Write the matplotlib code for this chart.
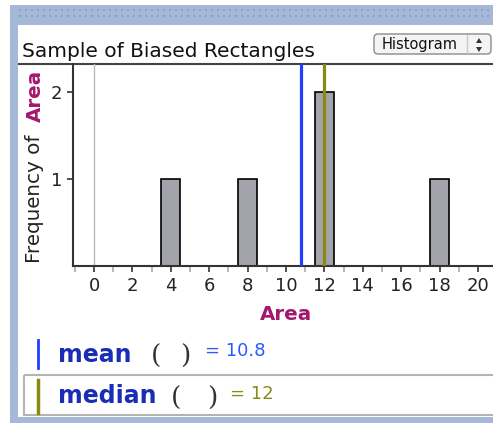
import numpy as np
import matplotlib
matplotlib.use("Agg")
import matplotlib.pyplot as plt
from matplotlib.patches import Rectangle, FancyBboxPatch, Polygon

# --- data --- #
areas = [4, 8, 12, 12, 18]
bin_edges = np.arange(-0.5, 21.0, 1.0)
x_major = [0, 2, 4, 6, 8, 10, 12, 14, 16, 18, 20]
x_minor = [-1, 1, 3, 5, 7, 9, 11, 13, 15, 17, 19]
y_ticks = [1, 2]
title = "Sample of Biased Rectangles"
mean_val = np.mean(areas)
median_val = np.median(areas)

W, H = 493, 423
fig = plt.figure(figsize=(W / 100, H / 100), dpi=100)
fig.patch.set_facecolor("white")
plt.rcParams["font.family"] = "DejaVu Sans"

# background layer in pixel coords (y down)
bg = fig.add_axes([0, 0, 1, 1])
bg.set_xlim(0, W)
bg.set_ylim(H, 0)
bg.axis("off")

frame_blue = "#a6b8d8"
bg.add_patch(Rectangle((10, 5), W - 10, 20, color=frame_blue, lw=0))
bg.add_patch(Rectangle((10, 5), 8, H - 5, color=frame_blue, lw=0))
bg.add_patch(Rectangle((10, 417), W - 10, 6, color=frame_blue, lw=0))
dx = np.arange(20, W, 6)
for yy in (10, 16):
    bg.scatter(dx, np.full(len(dx), yy), s=2.5, marker="s", color="#8aa0cc", lw=0)

# header
bg.text(22, 57, title, fontsize=14.5, color="#111111", ha="left", va="baseline")
bg.add_patch(FancyBboxPatch((374, 34), 117, 20, boxstyle="round,pad=0,rounding_size=4",
                            fc="#f4f4f4", ec="#8a8a8a", lw=1))
bg.plot([467, 467], [35, 53], color="#c8c8c8", lw=1)
bg.text(420, 45, "Histogram", fontsize=10.5, color="#111111", ha="center", va="center")
bg.add_patch(Polygon([[476, 43], [482, 43], [479, 38]], color="#333333", lw=0))
bg.add_patch(Polygon([[476, 47], [482, 47], [479, 52]], color="#333333", lw=0))
bg.plot([18, W], [64, 64], color="#444444", lw=1.5, solid_capstyle="butt")

# y label: "Frequency of" + bold "Area"
bg.text(35, 263, "Frequency of", fontsize=14.3, color="#222222",
        rotation=90, rotation_mode="anchor", ha="left", va="center")
bg.text(35, 122, "Area", fontsize=14.3, weight="bold", color="#a3186e",
        rotation=90, rotation_mode="anchor", ha="left", va="center")
bg.text(286, 315, "Area", fontsize=14.3, weight="bold", color="#a3186e",
        ha="center", va="center")

# --- histogram axes --- #
ax = fig.add_axes([73 / W, (H - 266) / H, (W - 73) / W, (266 - 64) / H])
ax.set_facecolor("none")
ax.hist(areas, bins=bin_edges, color="#a3a3ab", edgecolor="black", linewidth=1.2, zorder=2)
ax.axvline(0, color="#bbbbbb", lw=1, zorder=1)
ax.axvline(mean_val, color="#1f3fff", lw=2.3, zorder=3)
ax.axvline(median_val, color="#8a8a10", lw=2.3, zorder=3)
ax.set_xlim(-1.094, 20.78)
ax.set_ylim(0, 2.32)
ax.set_xticks(x_major)
ax.set_xticks(x_minor, minor=True)
ax.set_yticks(y_ticks)
for s in ("top", "right"):
    ax.spines[s].set_visible(False)
for s in ("left", "bottom"):
    ax.spines[s].set_color("#333333")
    ax.spines[s].set_linewidth(1.5)
ax.tick_params(axis="x", which="major", length=4, width=1.2, color="#333333",
               labelsize=13, pad=4, labelcolor="#222222")
ax.tick_params(axis="x", which="minor", length=4, width=1.2, color="#aaaaaa")
ax.tick_params(axis="y", length=4, width=1.2, color="#333333", labelsize=13, pad=4,
               labelcolor="#222222")

# --- summary rows --- #
bg.plot([38, 38], [340, 368], color="#1f3fff", lw=2)
bg.text(58, 362, "mean", fontsize=17, weight="bold", color="#1a2db5",
        ha="left", va="baseline")
bg.text(151, 364, "(", fontsize=19, family="DejaVu Serif", color="#333333", ha="left", va="baseline")
bg.text(180, 364, ")", fontsize=19, family="DejaVu Serif", color="#333333", ha="left", va="baseline")
bg.text(205, 351, "= %.1f" % mean_val, fontsize=13, color="#2b5bff", ha="left", va="center")

bg.add_patch(Rectangle((24, 375), W - 22, 40, fc="none", ec="#b4b4b4", lw=1.5))
bg.plot([38, 38], [380, 413], color="#8a8a10", lw=2.5)
bg.text(58, 403, "median", fontsize=17, weight="bold", color="#1a2db5",
        ha="left", va="baseline")
bg.text(171, 406, "(", fontsize=19, family="DejaVu Serif", color="#333333", ha="left", va="baseline")
bg.text(207, 406, ")", fontsize=19, family="DejaVu Serif", color="#333333", ha="left", va="baseline")
bg.text(230, 394, "= %g" % median_val, fontsize=13, color="#8a8a18", ha="left", va="center")

fig.savefig("out.png", dpi=100)
